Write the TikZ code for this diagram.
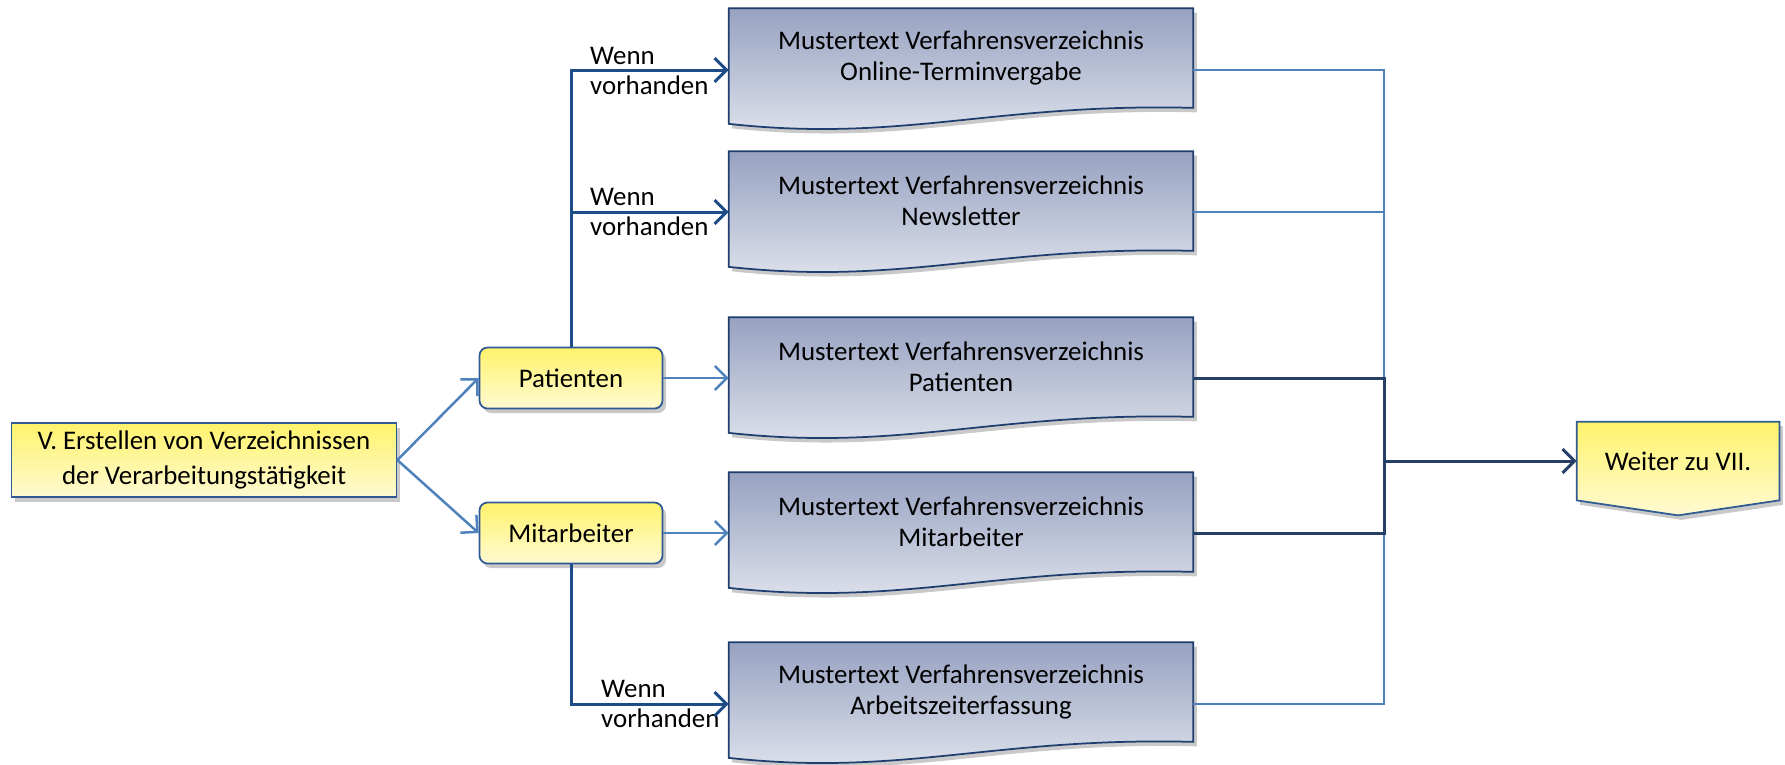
\documentclass[tikz,border=0pt]{standalone}
\usepackage{fontspec}
\setmainfont{Carlito}
\usetikzlibrary{arrows.meta,shadows,backgrounds}

\definecolor{yellowtop}{HTML}{FFF36B}
\definecolor{yellowbot}{HTML}{FFFAD2}
\definecolor{doctop}{HTML}{97A2C1}
\definecolor{docbot}{HTML}{E2E5EE}
\definecolor{boxline}{HTML}{2F5A94}
\definecolor{docline}{HTML}{1F3E70}
\definecolor{lightline}{HTML}{4F81BD}
\definecolor{darkline}{HTML}{1E4C88}
\definecolor{navyline}{HTML}{263F66}

\tikzset{
	boxshadow/.style={drop shadow={shadow xshift=0.7mm, shadow yshift=-0.9mm, opacity=0.3, fill=black!70}},
	startbox/.style={draw=boxline, line width=0.35mm, top color=yellowtop, bottom color=yellowbot, boxshadow,
		minimum width=77mm, minimum height=14.8mm, align=center, font=\fontsize{15.3}{20}\selectfont},
	groupbox/.style={draw=boxline, line width=0.35mm, top color=yellowtop, bottom color=yellowbot, boxshadow,
		rounded corners=1.6mm, minimum width=36.6mm, minimum height=12.2mm},
	docnode/.style={minimum width=92.8mm, minimum height=19.8mm, align=center},
	docshape/.style={draw=docline, line width=0.35mm, top color=doctop, bottom color=docbot, boxshadow},
	weiternode/.style={minimum width=40.4mm, minimum height=15.6mm},
	weitershape/.style={draw=boxline, line width=0.35mm, top color=yellowtop, bottom color=yellowbot, boxshadow},
	wenn/.style={anchor=west, align=left, font=\fontsize{15.3}{17}\selectfont},
	lightarrow/.style={draw=lightline, line width=0.5mm, -{Straight Barb[length=2.4mm, width=4.8mm]}},
	darkarrow/.style={draw=darkline, line width=0.6mm, -{Straight Barb[length=2.4mm, width=4.8mm]}},
	thinline/.style={draw=lightline, line width=0.3mm},
	navyline/.style={draw=navyline, line width=0.6mm},
	navyarrow/.style={navyline, -{Straight Barb[length=2.4mm, width=4.8mm]}}
}

\begin{document}
\begin{tikzpicture}[x=0.2mm, y=-0.2mm, font=\fontsize{15.3}{17.6}\selectfont]
	\useasboundingbox (0,0) rectangle (1785,764);

	%start node
	\node[startbox] (start) at (204,460){V. Erstellen von Verzeichnissen\\der Verarbeitungstätigkeit};

	%groups
	\node[groupbox] (pat) at (571,378){Patienten};
	\node[groupbox] (mit) at (571,533){Mitarbeiter};

	%documents
	\node[docnode] (d1) at (961,58){Mustertext Verfahrensverzeichnis\\Online-Terminvergabe};
	\node[docnode] (d2) at (961,201){Mustertext Verfahrensverzeichnis\\Newsletter};
	\node[docnode] (d3) at (961,367){Mustertext Verfahrensverzeichnis\\Patienten};
	\node[docnode] (d4) at (961,522){Mustertext Verfahrensverzeichnis\\Mitarbeiter};
	\node[docnode] (d5) at (961,692){Mustertext Verfahrensverzeichnis\\Arbeitszeiterfassung};

	%end node
	\node[weiternode] (weiter) at (1678,461){Weiter zu VII.};

	\begin{scope}[on background layer]
		\foreach \n in {d1,d2,d3,d4,d5}
			\path[docshape] (\n.north west) -- (\n.north east) -- (\n.south east)
				.. controls ([xshift=-40mm,yshift=1mm]\n.south east) and ([xshift=35mm,yshift=-7mm]\n.south west) .. ([yshift=-3.2mm]\n.south west) -- cycle;
		\path[weitershape] (weiter.north west) -- (weiter.north east) -- (weiter.south east)
			-- ([yshift=-3mm]weiter.south) -- (weiter.south west) -- cycle;
	\end{scope}

	%labels
	\node[wenn] (w1) at (584,71){Wenn\\vorhanden};
	\node[wenn] (w2) at (584,212){Wenn\\vorhanden};
	\node[wenn] (w5) at (595,704){Wenn\\vorhanden};

	%connectors left
	\draw[lightarrow] (start.east) -- (pat.west);
	\draw[lightarrow] (start.east) -- (mit.west);
	\draw[lightarrow] (pat.east) -- (pat.east -| d3.west);
	\draw[lightarrow] (mit.east) -- (mit.east -| d4.west);
	\draw[darkarrow] (pat.north) |- ([yshift=-2.4mm]d1.west);
	\draw[darkarrow] (pat.north |- w2.west) -- (w2.west -| d2.west);
	\draw[darkarrow] (mit.south) |- ([yshift=-2.4mm]d5.west);

	%connectors right
	\coordinate (rx) at (1384,0);
	\draw[thinline] ([yshift=-2.4mm]d1.east) -| (rx |- w5.west) -- (w5.west -| d5.east);
	\draw[thinline] (w2.west -| d2.east) -- (rx |- w2.west);
	\draw[navyline] (pat.east -| d3.east) -| (rx |- mit.east) -- (mit.east -| d4.east);
	\draw[navyarrow] (rx |- weiter) -- (weiter.west);

\end{tikzpicture}
\end{document}
